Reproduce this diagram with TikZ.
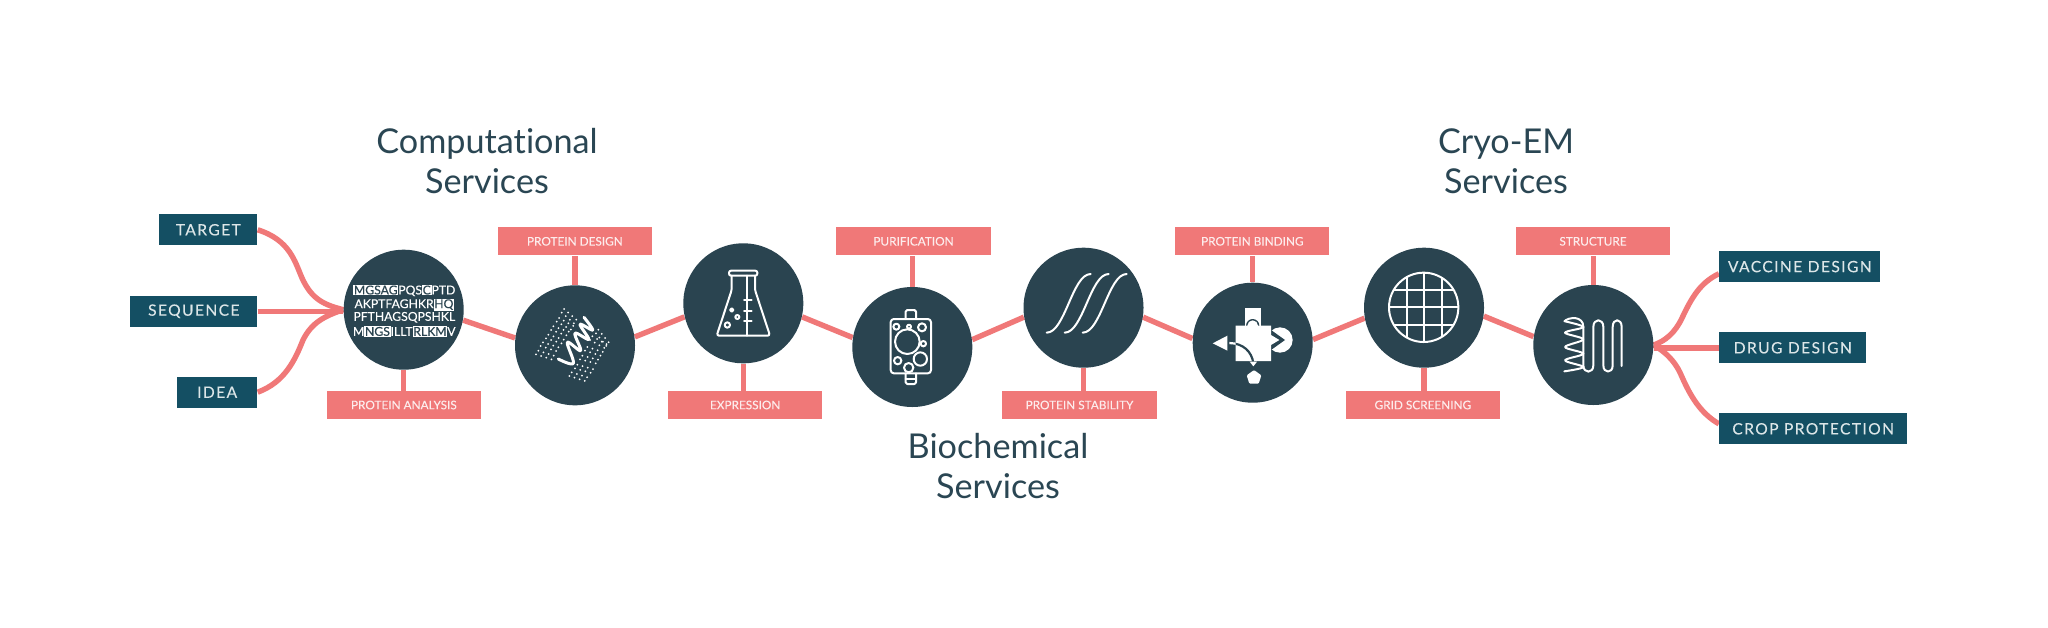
\documentclass[tikz,border=0pt]{standalone}
\usepackage{fontspec}
\setmainfont{Lato}[Ligatures=NoCommon]
\usetikzlibrary{calc}
\definecolor{circ}{HTML}{2A4450}
\definecolor{boxd}{HTML}{144F63}
\definecolor{pink}{HTML}{F07878}
\definecolor{titlec}{HTML}{2A4653}
\definecolor{boxtext}{HTML}{DCE6E8}
\definecolor{pinktext}{HTML}{FDECEC}
\pgfdeclarelayer{paper}\pgfdeclarelayer{conn}
\pgfsetlayers{paper,conn,main}
\newcommand{\hlt}[1]{{\setlength{\fboxsep}{0.35pt}\colorbox{white}{\textcolor{circ}{#1}}}}
\tikzset{
  stage/.style={circle,fill=circ,minimum size=60pt,inner sep=0},
  pinkbox/.style={rectangle,fill=pink,minimum width=77.15pt,minimum height=14pt,inner sep=0,text=pinktext,font=\fontsize{5.9}{7}\selectfont\addfontfeature{FakeBold=0.15}},
  darkbox/.style={rectangle,fill=boxd,minimum height=15.5pt,inner sep=0,text=boxtext,font=\fontsize{7.8}{9}\selectfont\addfontfeature{LetterSpace=9,FakeBold=0.1}},
  titlenode/.style={text=titlec,align=center,font=\fontsize{17.1}{19.9}\selectfont},
  seqline/.style={text=white,inner sep=0,text height=4.1pt,text depth=0pt,font=\fontsize{6.1}{7}\selectfont\addfontfeature{FakeBold=0.2}},
  link/.style={draw=pink,line width=2.7pt},
  icon/.style={draw=white,line width=1pt,line join=round,line cap=round},
  iconthin/.style={draw=white,line width=0.85pt,line join=round,line cap=round},
  dotrow/.style={draw=white,line width=1pt,line cap=round,dash pattern=on 0pt off 2.7pt},
  zoomed/.style={x=0.16667pt,y=-0.16667pt},
}
\begin{document}
\begin{tikzpicture}[x=0.5pt,y=-0.5pt]
\begin{pgfonlayer}{paper}
\fill[white] (0,0) rectangle (2048,627);
\end{pgfonlayer}
\useasboundingbox (0,0) rectangle (2048,627);
% stages
\node[stage] (c1) at (403.7,309.7) {};
\node[stage] (c2) at (575,345.3) {};
\node[stage] (c3) at (743.3,303.3) {};
\node[stage] (c4) at (912.3,347) {};
\node[stage] (c5) at (1083.5,307.7) {};
\node[stage] (c6) at (1252.7,342.7) {};
\node[stage] (c7) at (1424,307.7) {};
\node[stage] (c8) at (1593.3,345) {};
% pink boxes
\node[pinkbox] (analysis) at (403.85,405) {PROTEIN ANALYSIS};
\node[pinkbox] (design) at (574.85,241.3) {PROTEIN DESIGN};
\node[pinkbox] (expr) at (745.15,405) {EXPRESSION};
\node[pinkbox] (purif) at (913.5,241.3) {PURIFICATION};
\node[pinkbox] (stab) at (1079.5,405) {PROTEIN STABILITY};
\node[pinkbox] (bind) at (1252.3,241.3) {PROTEIN BINDING};
\node[pinkbox] (grid) at (1422.85,405) {GRID SCREENING};
\node[pinkbox] (struct) at (1593,241.3) {STRUCTURE};
% dark boxes
\node[darkbox,minimum width=49pt] (target) at (208.3,229.8) {TARGET};
\node[darkbox,minimum width=63.5pt] (sequence) at (193.8,311.2) {SEQUENCE};
\node[darkbox,minimum width=40.15pt] (idea) at (217.15,392.2) {IDEA};
\node[darkbox,minimum width=80.5pt] (vaccine) at (1799.8,266.6) {VACCINE DESIGN};
\node[darkbox,minimum width=73.5pt] (drug) at (1792.8,347.8) {DRUG DESIGN};
\node[darkbox,minimum width=93.85pt] (crop) at (1813.15,428.8) {CROP PROTECTION};
% titles
\node[titlenode] (t1) at (487,161) {Computational\\Services};
\node[titlenode] (t2) at (998,466) {Biochemical\\Services};
\node[titlenode] (t3) at (1506,161) {Cryo-EM\\Services};
% connectors
\begin{pgfonlayer}{conn}
\draw[link] (target.east) .. controls (290,240) and (295,262) .. (302,278) .. controls (312,300) and (325,305) .. (c1.west);
\draw[link] (sequence.east) -- (c1.west |- sequence.east);
\draw[link] (idea.east) .. controls (285,382) and (295,360) .. (303,340) .. controls (312,322) and (325,316) .. (c1.west);
\draw[link] (c1.-10) -- (c2.173);
\draw[link] (c2.8) -- (c3.193);
\draw[link] (c3.-13.5) -- (c4.171.6);
\draw[link] (c4.7.6) -- (c5.189);
\draw[link] (c5.-9) -- (c6.176);
\draw[link] (c6.3.5) -- (c7.190);
\draw[link] (c7.-8.6) -- (c8.172.7);
\draw[link] (c1.south) -- (analysis.north -| c1.south);
\draw[link] (c2.north) -- (design.south -| c2.north);
\draw[link] (c3.south) -- (expr.north -| c3.south);
\draw[link] (c4.north) -- (purif.south -| c4.north);
\draw[link] (c5.south) -- (stab.north -| c5.south);
\draw[link] (c6.north) -- (bind.south -| c6.north);
\draw[link] (c7.south) -- (grid.north -| c7.south);
\draw[link] (c8.north) -- (struct.south -| c8.north);
\draw[link] (c8.east) .. controls (1665,341) and (1675,333) .. (1682,318) .. controls (1692,297) and (1700,283) .. (vaccine.185);
\draw[link] (c8.east |- drug.west) -- (drug.west);
\draw[link] (c8.east) .. controls (1670,355) and (1677,365) .. (1682,377) .. controls (1690,395) and (1700,413) .. (crop.177);
\end{pgfonlayer}
% icon 1: sequence text
\node[seqline] (s1) at (404.3,290.3) {\hlt{MGSAG}PQS\hlt{C}PTD};
\node[seqline] (s2) at (404.3,304) {AKPTFAGHKR\hlt{HQ}};
\node[seqline] (s3) at (404.3,316.7) {PFTHAGSQPSHKL};
\node[seqline] (s4) at (404.3,331.7) {M\hlt{NGS}ILLT\hlt{RLKM}V};
% icon 2: designed helix with dots
\begin{scope}[shift={(510,280)},zoomed]
\foreach \ax/\ay/\bx/\by in {155/98/192/130,140/125/185/150,123/150/175/168,108/175/160/192,92/198/145/215,78/223/130/240,258/160/295/205,240/180/285/205,225/212/275/228,210/238/265/252,195/265/248/280,178/288/232/305}{
  \draw[dotrow] (\ax,\ay) -- (\bx,\by);
  \draw[dotrow] (\ax+7,\ay-11) -- (\bx+7,\by-11);
}
\draw[icon,line width=1.5pt] plot[smooth,tension=.6] coordinates {(145,237) (190,250) (172,187) (212,212) (195,160) (236,178) (210,133) (248,150) (222,112)};
\end{scope}
% icon 3: flask
\begin{scope}[shift={(680,240)},zoomed]
\draw[icon,rounded corners=1pt] (147,92) rectangle (232,107);
\draw[icon,rounded corners=1.2pt] (155,107) -- (155,150) -- (110,287) -- (270,287) -- (225,150) -- (225,107);
\draw[icon] (201,107) -- (201,287);
\foreach \yy in {180,212,243} \draw[icon] (192,\yy) -- (215,\yy);
\draw[icon] (155,210) circle [radius=5];
\draw[icon] (172,231) circle [radius=6];
\draw[icon] (142,255) circle [radius=8];
\end{scope}
% icon 4: purification cell
\begin{scope}[shift={(850,285)},zoomed]
\draw[icon,rounded corners=1.6pt] (122,102) rectangle (243,265);
\draw[icon,rounded corners=0.8pt] (167,102) -- (167,75) -- (198,75) -- (198,102);
\draw[icon,rounded corners=0.8pt] (167,265) -- (167,297) -- (198,297) -- (198,265);
\draw[icon] (167,283) -- (198,283);
\foreach \cx/\cy/\rr in {139/125/9,177/125/6,216/127/12,172/170/37,220/176/8,143/227/11,211/222/20,176/248/14}
  \draw[icon] (\cx,\cy) circle [radius=\rr];
\end{scope}
% icon 5: melting curves
\begin{scope}[shift={(1020,245)},zoomed]
\foreach \dd in {0,54,108}
  \draw[icon] (80+\dd,263) .. controls (135+\dd,263) and (157+\dd,87) .. (212+\dd,87);
\end{scope}
% icon 6: binding
\begin{scope}[shift={(1190,285)},zoomed]
\fill[white] (270,165) circle [radius=38];
\fill[circ] (243,135) -- (285,165) -- (243,195) -- cycle;
\fill[white] (165,68) rectangle (213,122);
\fill[circ] (188,122) circle [radius=20];
\fill[white] (137,122) -- (172,122) arc[start angle=180,end angle=360,radius=16] -- (243,122) -- (243,150) -- (268,165) -- (243,180) -- (243,228) -- (137,228) -- cycle;
\fill[white] (68,175) -- (112,152) -- (112,197) -- cycle;
\draw[white,line width=1.1pt] (118,174) .. controls (160,175) and (185,200) .. (190,234);
\begin{scope}
\clip (137,122) rectangle (243,228);
\draw[circ,line width=1.1pt] (118,174) .. controls (160,175) and (185,200) .. (190,234);
\end{scope}
\fill[white] (179,230) -- (201,230) -- (190,244) -- cycle;
\fill[white,rounded corners=0.5pt] (192,255) -- (214,271) -- (206,296) -- (178,296) -- (170,271) -- cycle;
\end{scope}
% icon 7: grid
\begin{scope}[shift={(1360,245)},zoomed]
\begin{scope}
\clip (191,187) circle [radius=104];
\foreach \vv in {140,192,245} \draw[iconthin] (\vv,70) -- (\vv,300);
\foreach \hh in {135,187,240} \draw[iconthin] (70,\hh) -- (310,\hh);
\end{scope}
\draw[icon] (191,187) circle [radius=104];
\end{scope}
% icon 8: structure
\begin{scope}[shift={(1530,282)},zoomed]
\draw[icon] plot[smooth,tension=.55] coordinates {(103,268) (160,255) (105,235) (160,215) (105,195) (160,172) (105,152) (160,135) (105,118)};
\draw[icon] (103,118) .. controls (115,105) and (160,100) .. (160,135) -- (160,250) .. controls (160,275) and (190,275) .. (190,250) -- (190,135) .. controls (190,108) and (220,108) .. (220,135) -- (220,250) .. controls (220,275) and (248,275) .. (248,250) -- (248,135) .. controls (248,108) and (275,108) .. (275,135) -- (275,252);
\end{scope}
\end{tikzpicture}
\end{document}
